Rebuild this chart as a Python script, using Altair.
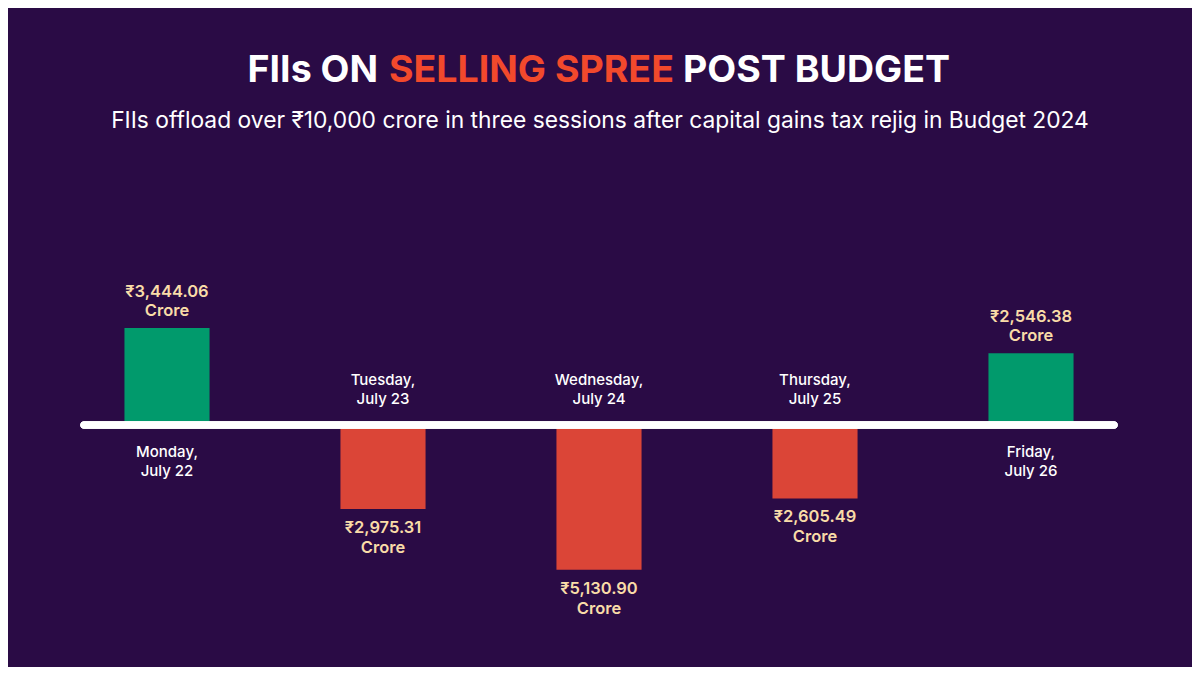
import altair as alt
import pandas as pd

days = ["Monday,", "Tuesday,", "Wednesday,", "Thursday,", "Friday,"]
dates = ["July 22", "July 23", "July 24", "July 25", "July 26"]
values = [3444.06, -2975.31, -5130.90, -2605.49, 2546.38]

title_parts = ["FIIs ON", "SELLING SPREE", "POST BUDGET"]
subtitle = "FIIs offload over ₹10,000 crore in three sessions after capital gains tax rejig in Budget 2024"

BG = "#2A0B45"
GREEN = "#019A6C"
RED = "#DB4537"
ORANGE = "#F2492C"
CREAM = "#F9DCA8"
FONT = "Inter"

df = pd.DataFrame({
    "day": days,
    "date": dates,
    "value": values,
    "amount": [f"₹{abs(v):,.2f}" for v in values],
    "unit": ["Crore"] * len(values),
})

W, H = 1184, 659
x = alt.X("day:N", sort=days, axis=None,
          scale=alt.Scale(range=[51, 1131], paddingInner=0.606, paddingOuter=0.303))
yscale = alt.Scale(domain=[-6000, 5000], range=[586.2, 276])
y = alt.Y("value:Q", scale=yscale, axis=None)
zy = alt.Y(datum=0, scale=yscale, axis=None)

base = alt.Chart(df)

bars = base.mark_bar().encode(
    x=x, y=y, y2=alt.datum(0),
    color=alt.condition(alt.datum.value > 0, alt.value(GREEN), alt.value(RED)),
)

zero = base.mark_rule(strokeWidth=7, strokeCap="round", color="white").encode(
    x=alt.value(76), x2=alt.value(1106), y=zy
)

pos = base.transform_filter(alt.datum.value > 0)
neg = base.transform_filter(alt.datum.value < 0)

lab_kw = dict(font=FONT, fontSize=16.5, fontWeight=600, color=CREAM, baseline="middle", align="center")
day_kw = dict(font=FONT, fontSize=15, fontWeight=500, color="white", baseline="middle", align="center")

pos_amt = pos.mark_text(dy=-36, **lab_kw).encode(x=x, y=y, text="amount:N")
pos_unit = pos.mark_text(dy=-17, **lab_kw).encode(x=x, y=y, text="unit:N")
neg_amt = neg.mark_text(dy=19, **lab_kw).encode(x=x, y=y, text="amount:N")
neg_unit = neg.mark_text(dy=39, **lab_kw).encode(x=x, y=y, text="unit:N")

pos_day = pos.mark_text(dy=27, **day_kw).encode(x=x, y=zy, text="day:N")
pos_date = pos.mark_text(dy=46, **day_kw).encode(x=x, y=zy, text="date:N")
neg_day = neg.mark_text(dy=-45, **day_kw).encode(x=x, y=zy, text="day:N")
neg_date = neg.mark_text(dy=-26, **day_kw).encode(x=x, y=zy, text="date:N")

def txt(s, xpos, ypos, color, size, weight, align="left"):
    return alt.Chart(pd.DataFrame({"t": [s]})).mark_text(
        font=FONT, fontSize=size, fontWeight=weight, color=color,
        align=align, baseline="middle"
    ).encode(x=alt.value(xpos), y=alt.value(ypos), text="t:N")

t1 = txt(title_parts[0], 370, 63, "white", 37.5, 700, align="right")
t2 = txt(title_parts[1], 381, 63, ORANGE, 37.5, 700)
t3 = txt(title_parts[2], 675, 63, "white", 37.5, 700)
sub = txt(subtitle, 592, 113, "white", 22.8, 400, align="center")

chart = alt.layer(
    bars, zero, pos_amt, pos_unit, neg_amt, neg_unit,
    pos_day, pos_date, neg_day, neg_date, t1, t2, t3, sub
).properties(
    width=W, height=H, background=BG, padding=0,
    autosize=alt.AutoSizeParams(type="none"),
).configure_view(stroke=None)

chart.save("out.html", embed_options={"renderer": "svg", "actions": False})
